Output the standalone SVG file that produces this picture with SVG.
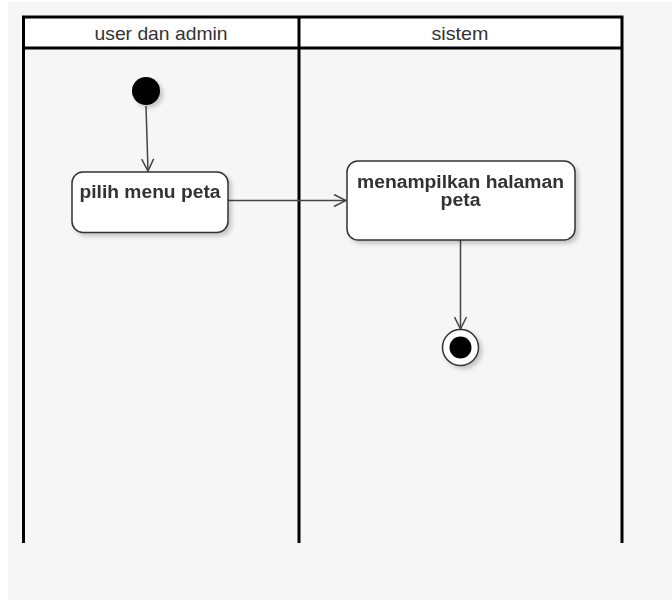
<svg xmlns="http://www.w3.org/2000/svg" width="672" height="600" viewBox="0 0 672 600">
<style>
.lane{fill:none;stroke:#000;stroke-width:3}
.hdr{font-family:"Liberation Sans",Arial,sans-serif;font-size:18.5px;fill:#333;text-anchor:middle}
.act{fill:#fff;stroke:#333;stroke-width:1.5}
.lbl{font-family:"Liberation Sans",Arial,sans-serif;font-size:17.5px;font-weight:bold;fill:#333;text-anchor:middle}
.edge{fill:none;stroke:#444;stroke-width:1.5}
</style>
<defs>
<filter id="sh" x="-20%" y="-20%" width="150%" height="150%">
<feGaussianBlur in="SourceAlpha" stdDeviation="2"/>
<feOffset dx="3" dy="3" result="b"/>
<feComponentTransfer><feFuncA type="linear" slope="0.2"/></feComponentTransfer>
<feMerge><feMergeNode/><feMergeNode in="SourceGraphic"/></feMerge>
</filter>
<marker id="arr" viewBox="0 0 14 14" refX="13" refY="7" markerWidth="14" markerHeight="14" markerUnits="userSpaceOnUse" orient="auto">
<path d="M1,1 L13,7 L1,13" fill="none" stroke="#444" stroke-width="1.5"/>
</marker>
</defs>
<rect x="0" y="0" width="672" height="600" fill="#fff"/>
<rect x="8" y="2" width="664" height="598" fill="#f6f6f6"/>
<g id="lanes">
<rect x="23.5" y="17" width="275.5" height="31" fill="#fff"/>
<rect x="299" y="17" width="323" height="31" fill="#fff"/>
<path class="lane" d="M23.5,543 V17 H622 V543 M299,17 V543 M23.5,48 H622"/>
<text class="hdr" x="161" y="40" textLength="133" lengthAdjust="spacingAndGlyphs">user dan admin</text>
<text class="hdr" x="460" y="40" textLength="57" lengthAdjust="spacingAndGlyphs">sistem</text>
</g>
<g id="connectors">
<line class="edge" x1="146" y1="106" x2="148" y2="171" marker-end="url(#arr)"/>
<line class="edge" x1="228" y1="200.5" x2="346" y2="200.5" marker-end="url(#arr)"/>
<line class="edge" x1="460.5" y1="240" x2="460.5" y2="329" marker-end="url(#arr)"/>
</g>
<g id="start" filter="url(#sh)">
<circle cx="146" cy="91" r="14" fill="#000"/>
</g>
<g id="pilih" filter="url(#sh)">
<rect class="act" x="72" y="172" width="156" height="60.5" rx="11"/>
<text class="lbl" x="150" y="198" textLength="141" lengthAdjust="spacingAndGlyphs">pilih menu peta</text>
</g>
<g id="menampilkan" filter="url(#sh)">
<rect class="act" x="347" y="161" width="228" height="79" rx="11"/>
<text class="lbl" x="460.5" y="188" textLength="207" lengthAdjust="spacingAndGlyphs">menampilkan halaman</text>
<text class="lbl" x="460.5" y="205.5" textLength="40" lengthAdjust="spacingAndGlyphs">peta</text>
</g>
<g id="end" filter="url(#sh)">
<circle cx="460.5" cy="347.5" r="18" fill="#fff" stroke="#333" stroke-width="1.5"/>
<circle cx="460.5" cy="347.5" r="11" fill="#000"/>
</g>
</svg>
